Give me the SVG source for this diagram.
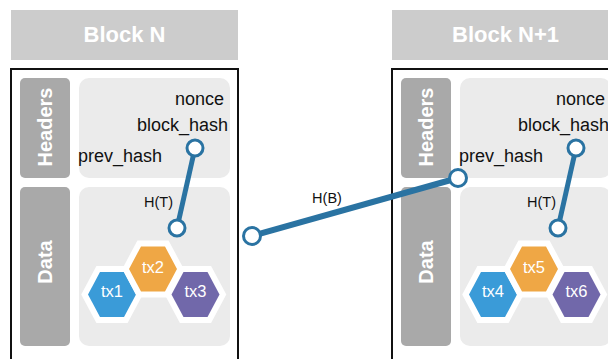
<svg xmlns="http://www.w3.org/2000/svg" xmlns:xlink="http://www.w3.org/1999/xlink" width="608" height="359" viewBox="0 0 608 359">
  <style>
    .title-bar { fill: #cccccc; }
    .title { font-family: "Liberation Sans", Arial, sans-serif; font-weight: bold; font-size: 22px; fill: #ffffff; text-anchor: middle; }
    .frame { fill: #ffffff; stroke: #111111; stroke-width: 2; }
    .side { fill: #a9a9a9; }
    .side-label { font-family: "Liberation Sans", Arial, sans-serif; font-weight: bold; font-size: 20px; fill: #ffffff; text-anchor: middle; }
    .panel { fill: #ebebeb; }
    .field { font-family: "Liberation Sans", Arial, sans-serif; font-size: 18px; fill: #111111; }
    .small { font-family: "Liberation Sans", Arial, sans-serif; font-size: 14.5px; fill: #111111; }
    .tx { stroke: #ffffff; stroke-width: 12; stroke-linejoin: miter; paint-order: stroke fill; }
    .tx-label { font-family: "Liberation Sans", Arial, sans-serif; font-size: 16.5px; fill: #ffffff; text-anchor: middle; }
    .blue { fill: #3a9bd8; }
    .orange { fill: #efa745; }
    .purple { fill: #7168aa; }
    .link { stroke: #2a73a2; stroke-linecap: butt; fill: none; }
    .port { fill: #ffffff; stroke: #2a73a2; stroke-width: 3; }
  </style>
  <defs>
    <polygon id="hex" points="-24,0 -12,-22.5 12,-22.5 24,0 12,22.5 -12,22.5"/>
  </defs>

  <!-- Block N -->
  <g id="block-n">
    <rect class="title-bar" x="11" y="10" width="227" height="50"/>
    <text class="title" x="124.5" y="42">Block N</text>
    <rect class="frame" x="11" y="69" width="227" height="300"/>
    <g id="block-n-headers">
      <rect class="side" x="20" y="78" width="50" height="100" rx="5"/>
      <text class="side-label" transform="translate(52,127) rotate(-90)">Headers</text>
      <rect class="panel" x="79" y="78" width="151" height="100" rx="10"/>
      <text class="field" x="224" y="105" text-anchor="end">nonce</text>
      <text class="field" x="228" y="131" text-anchor="end">block_hash</text>
      <text class="field" x="78" y="162">prev_hash</text>
    </g>
    <g id="block-n-data">
      <rect class="side" x="20" y="187" width="50" height="159" rx="5"/>
      <text class="side-label" transform="translate(52,262) rotate(-90)">Data</text>
      <rect class="panel" x="79" y="187" width="151" height="159" rx="10"/>
      <text class="small" x="144" y="207">H(T)</text>
    </g>
    <g id="tx1">
      <use xlink:href="#hex" class="tx blue" transform="translate(112,294.5)"/>
      <text class="tx-label" x="112" y="297">tx1</text>
    </g>
    <g id="tx2">
      <use xlink:href="#hex" class="tx orange" transform="translate(153,269)"/>
      <text class="tx-label" x="153" y="273">tx2</text>
    </g>
    <g id="tx3">
      <use xlink:href="#hex" class="tx purple" transform="translate(195.5,294.5)"/>
      <text class="tx-label" x="195.5" y="297">tx3</text>
    </g>
  </g>

  <!-- Block N+1 -->
  <g id="block-n1">
    <rect class="title-bar" x="392" y="10" width="227" height="50"/>
    <text class="title" x="505.5" y="42">Block N+1</text>
    <rect class="frame" x="392" y="69" width="227" height="300"/>
    <g id="block-n1-headers">
      <rect class="side" x="401" y="78" width="50" height="100" rx="5"/>
      <text class="side-label" transform="translate(433,127) rotate(-90)">Headers</text>
      <rect class="panel" x="460" y="78" width="151" height="100" rx="10"/>
      <text class="field" x="605" y="105" text-anchor="end">nonce</text>
      <text class="field" x="609" y="131" text-anchor="end">block_hash</text>
      <text class="field" x="459" y="162">prev_hash</text>
    </g>
    <g id="block-n1-data">
      <rect class="side" x="401" y="187" width="50" height="159" rx="5"/>
      <text class="side-label" transform="translate(433,262) rotate(-90)">Data</text>
      <rect class="panel" x="460" y="187" width="151" height="159" rx="10"/>
      <text class="small" x="527" y="207">H(T)</text>
    </g>
    <g id="tx4">
      <use xlink:href="#hex" class="tx blue" transform="translate(493,294.5)"/>
      <text class="tx-label" x="493" y="297">tx4</text>
    </g>
    <g id="tx5">
      <use xlink:href="#hex" class="tx orange" transform="translate(534,269)"/>
      <text class="tx-label" x="534" y="273">tx5</text>
    </g>
    <g id="tx6">
      <use xlink:href="#hex" class="tx purple" transform="translate(576.5,294.5)"/>
      <text class="tx-label" x="576.5" y="297">tx6</text>
    </g>
  </g>

  <!-- hash links -->
  <g id="connectors">
    <line class="link" x1="195" y1="148" x2="177" y2="228" stroke-width="5"/>
    <circle class="port" cx="195" cy="148" r="8"/>
    <circle class="port" cx="177" cy="228" r="8"/>

    <line class="link" x1="576" y1="148" x2="558" y2="228" stroke-width="5"/>
    <circle class="port" cx="576" cy="148" r="8"/>
    <circle class="port" cx="558" cy="228" r="8"/>

    <line class="link" x1="252" y1="236" x2="458" y2="178" stroke-width="6"/>
    <circle class="port" cx="252" cy="236" r="8.5"/>
    <circle class="port" cx="458" cy="178" r="8.5"/>
    <text class="small" x="327" y="203" text-anchor="middle">H(B)</text>
  </g>
</svg>
